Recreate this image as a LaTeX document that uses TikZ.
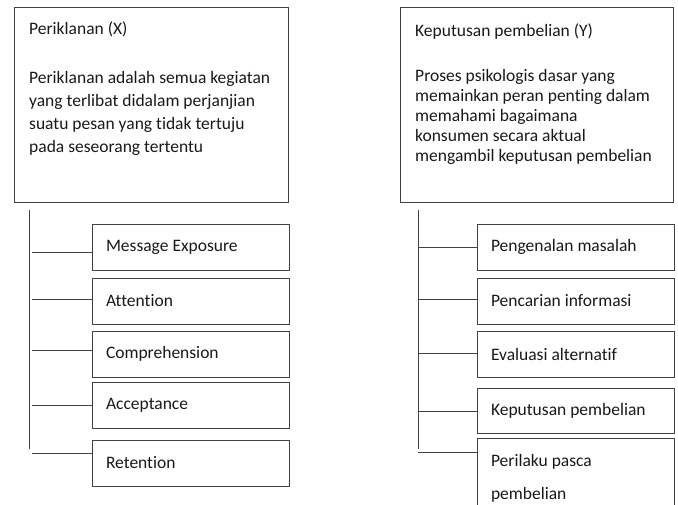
\documentclass[tikz,border=0pt]{standalone}
\usepackage{fontspec}
\setmainfont{Carlito}[Ligatures=NoCommon]
\begin{document}
\begin{tikzpicture}[x=1pt,y=-1pt,
	bigbox/.style={draw=black!75,line width=1pt,minimum width=274pt,minimum height=195pt,inner sep=0pt},
	isi/.style={anchor=north west,inner sep=0pt,align=flush left,text=black!90},
	kotak/.style={draw=black!75,line width=1pt,minimum width=197pt,minimum height=46pt,text width=169pt,inner xsep=14pt,inner ysep=0pt,align=flush left,text=black!90,font=\fontsize{17.5}{20}\selectfont},
	garis/.style={draw=black!75,line width=1pt}]
			\useasboundingbox (0,0) rectangle (678,504);
			\node[bigbox] (iklan) at (151,104.5) {};
			\node[bigbox,minimum width=273pt] (keputusan) at (536.5,104.5) {};
			\node[isi,font=\fontsize{17.5}{23.2}\selectfont] (teksX) at (29,21.5) {Periklanan (X)\\[25.5pt]Periklanan adalah semua kegiatan\\yang terlibat didalam perjanjian\\suatu pesan yang tidak tertuju\\pada seseorang tertentu};
			\node[isi,font=\fontsize{17.5}{20}\selectfont] (teksY) at (415,23.6) {Keputusan pembelian (Y)\\[25pt]Proses psikologis dasar yang\\memainkan peran penting dalam\\memahami bagaimana\\konsumen secara aktual\\mengambil keputusan pembelian};
			\node[kotak] (exposure) at (190.5,247) {Message Exposure};
			\node[kotak] (attention) at (190.5,301) {Attention};
			\node[kotak] (comprehension) at (190.5,354) {Comprehension};
			\node[kotak] (acceptance) at (190.5,405) {Acceptance};
			\node[kotak] (retention) at (190.5,463) {Retention};
			\node[kotak] (masalah) at (575.5,247) {Pengenalan masalah};
			\node[kotak] (informasi) at (575.5,301) {Pencarian informasi};
			\node[kotak] (evaluasi) at (575.5,354) {Evaluasi alternatif};
			\node[kotak,minimum height=45pt] (pembelian) at (575.5,410.5) {Keputusan pembelian};
			\node[kotak,minimum height=80pt] (pasca) at (575.5,478) {Perilaku pasca\\[13pt]pembelian};
			\coordinate (spineX) at (29,210);
			\coordinate (spineXend) at (29,449);
			\coordinate (spineY) at (418,210);
			\coordinate (spineYend) at (418,449);
			\draw[garis] (spineX) -- (spineXend);
			\draw[garis] ([yshift=-5pt]exposure.west) -- +(-60,0);
			\draw[garis] ([yshift=2pt]attention.west) -- +(-60,0);
			\draw[garis] ([yshift=4pt]comprehension.west) -- +(-60,0);
			\draw[garis] (acceptance.west) -- +(-60,0);
			\draw[garis] ([yshift=10pt]retention.west) -- +(-60,0);
			\draw[garis] (spineY) -- (spineYend);
			\draw[garis] (masalah.west) -- +(-59,0);
			\draw[garis] ([yshift=2pt]informasi.west) -- +(-59,0);
			\draw[garis] ([yshift=1pt]evaluasi.west) -- +(-59,0);
			\draw[garis] ([yshift=-0.5pt]pembelian.west) -- +(-59,0);
			\draw[garis] ([yshift=26pt]pasca.west) -- +(-59,0);
		\end{tikzpicture}
\end{document}
